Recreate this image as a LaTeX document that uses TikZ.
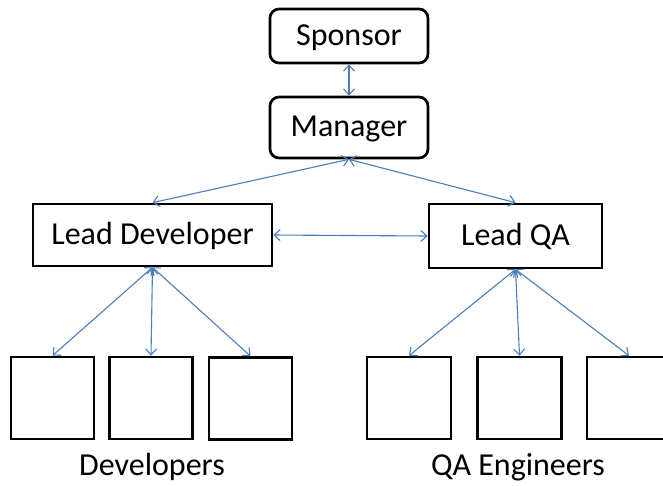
\documentclass[tikz,border=0pt]{standalone}
\usepackage{fontspec}
\setmainfont{Carlito}
\usetikzlibrary{arrows.meta}
\definecolor{linkblue}{RGB}{74,126,187}
\begin{document}
\begin{tikzpicture}[x=1pt,y=-1pt,
  box/.style={draw=black,line width=2.7pt,fill=white,inner sep=0pt,
    font=\fontsize{32}{37}\selectfont,text depth=4pt,text height=22pt},
  rbox/.style={box,rounded corners=9pt},
  worker/.style={box,minimum width=83pt,minimum height=82pt},
  caption/.style={inner sep=0pt,font=\fontsize{32}{37}\selectfont},
  link/.style={draw=linkblue,line width=1.1pt,
    {Straight Barb[length=6pt,width=11pt]}-{Straight Barb[length=6pt,width=11pt]}}]
\useasboundingbox (0,0) rectangle (663,485);
\clip (0,0) rectangle (663,485);
\fill[white] (0,0) rectangle (663,485);
\node[rbox,minimum width=158pt,minimum height=54pt] (sponsor) at (349,36) {Sponsor};
\node[rbox,minimum width=158pt,minimum height=61pt] (manager) at (349,127.5) {Manager};
\node[box,minimum width=239pt,minimum height=62pt] (leaddev) at (152.5,235) {Lead Developer};
\node[box,minimum width=173pt,minimum height=64pt] (leadqa) at (515.5,236) {Lead QA};
\node[worker] (d1) at (52.5,398) {};
\node[worker] (d2) at (151,398) {};
\node[worker] (d3) at (250.5,398.5) {};
\node[worker,minimum width=84pt] (q1) at (409,398) {};
\node[worker,minimum width=84pt] (q2) at (519.5,398) {};
\node[worker,minimum width=84pt] (q3) at (629,398) {};
\node[caption] (devs) at (152,467) {Developers};
\node[caption] (qas) at (518,467) {QA Engineers};
\draw[link] (sponsor.south) -- (manager.north);
\draw[link] (manager.south) -- (leaddev.north);
\draw[link] (manager.south) -- (leadqa.north);
\draw[link] (leaddev.east) -- (leadqa.west);
\draw[link] (leaddev.south) -- (d1.north);
\draw[link] (leaddev.south) -- (d2.north);
\draw[link] (leaddev.south) -- (d3.north);
\draw[link] (leadqa.south) -- (q1.north);
\draw[link] (leadqa.south) -- (q2.north);
\draw[link] (leadqa.south) -- (q3.north);
\end{tikzpicture}
\end{document}
